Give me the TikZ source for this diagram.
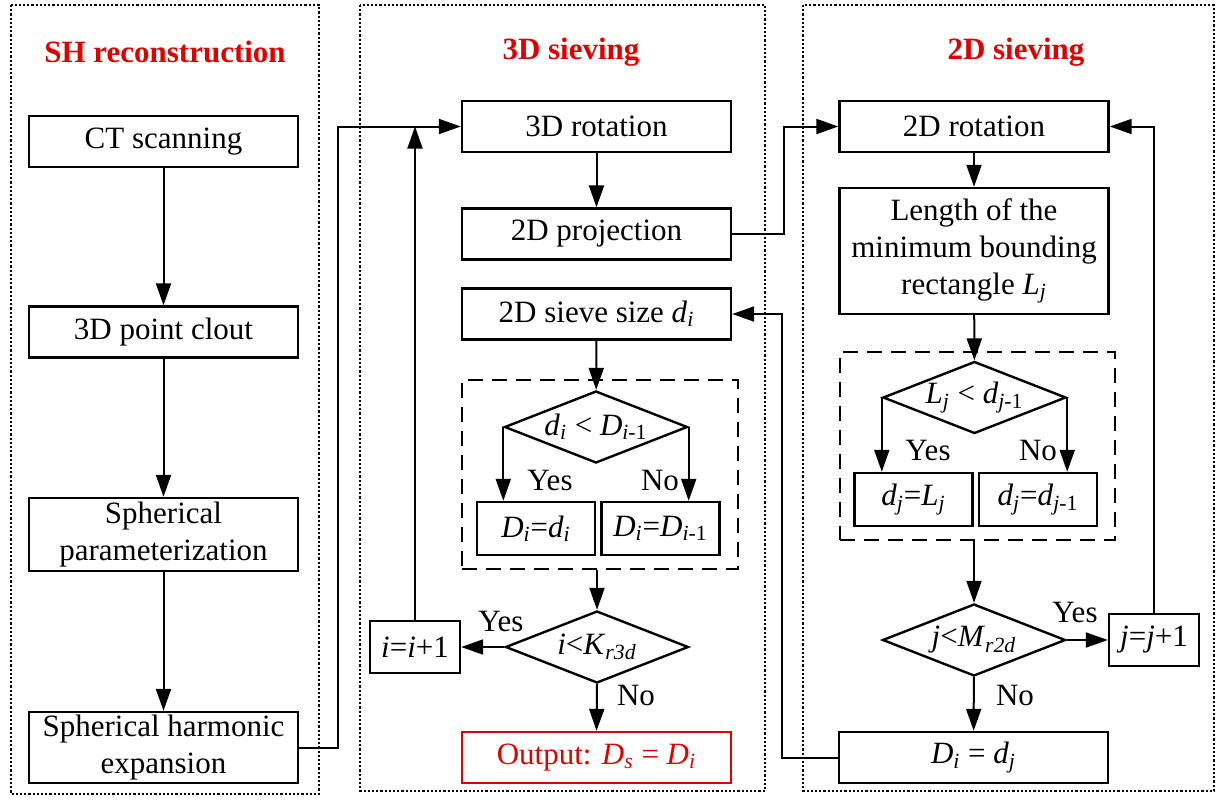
\documentclass[tikz,border=0pt]{standalone}
\usepackage{fontspec}
\setmainfont{Liberation Serif}
\usetikzlibrary{arrows.meta,shapes.geometric,fit}
\definecolor{shred}{RGB}{225,0,0}
\newcommand{\varsub}[2]{\textit{#1}\textsubscript{#2}}

\begin{document}
\begin{tikzpicture}[x=0.5pt,y=-0.5pt,
    font=\fontsize{15.5}{18.5}\selectfont,
    box/.style={draw,line width=1.2pt,inner sep=0pt,align=center,minimum width=134.5pt,minimum height=25.5pt},
    smallbox/.style={box,minimum width=59pt,minimum height=26.5pt},
    cond/.style={draw,line width=1.2pt,shape=diamond,aspect=2.5,inner sep=0pt,minimum width=91.5pt,minimum height=36pt},
    dashgroup/.style={draw,line width=1.1pt,dash pattern=on 7.5pt off 4.5pt,inner sep=0pt},
    panel/.style={line width=1.2pt,dash pattern=on 1.1pt off 1pt},
    paneltitle/.style={text=shred,font=\fontsize{15.5}{18}\selectfont\bfseries},
    arr/.style={-{Triangle[length=11pt,width=7.5pt]},line width=1pt},
    lbl/.style={inner sep=0pt}]
    \useasboundingbox (0,0) rectangle (1219,799);
    \draw[panel] (11,5) rectangle (319,794);
    \draw[panel] (360,5) rectangle (765,791);
    \draw[panel] (803,5) rectangle (1214,791);
    \node[paneltitle] (t1) at (165,52) {SH reconstruction};
    \node[paneltitle] (t2) at (571,52) {3D sieving};
    \node[paneltitle] (t3) at (1016,52) {2D sieving};

    \node[box] (ct) at (163.5,141.5) {CT scanning};
    \node[box] (pc) at (163.5,332) {3D point clout};
    \node[box,minimum height=36.5pt] (sp) at (163.5,534.5) {Spherical\\parameterization};
    \node[box,minimum height=35.5pt] (she) at (163.5,747.5) {Spherical harmonic\\expansion};

    \node[box] (rot3) at (596.5,126.5) {3D rotation};
    \node[box] (proj) at (596.5,234) {2D projection};
    \node[box] (sieve) at (596.5,314) {2D sieve size \varsub{d}{\textit{i}}};
    \node[dashgroup,fit={(462,380) (738,569)}] (grp3d) {};
    \node[cond] (dia1) at (596,427) {\varsub{d}{\textit{i}} < \varsub{D}{\textit{i}-1}};
    \node[smallbox] (dyes) at (536,528.5) {\varsub{D}{\textit{i}}=\varsub{d}{\textit{i}}};
    \node[smallbox] (dno) at (660.5,528.5) {\varsub{D}{\textit{i}}=\varsub{D}{\textit{i}-1}};
    \node[cond] (dia2) at (597,647) {\textit{i}<\varsub{K}{\textit{r3d}}};
    \node[box,minimum width=45pt,minimum height=26pt] (iinc) at (415,647) {\textit{i}=\textit{i}+1};
    \node[box,draw=shred,text=shred] (out) at (596.5,757.5) {Output: \varsub{D}{\textit{s}} = \varsub{D}{\textit{i}}};

    \node[box] (rot2) at (974,126.5) {2D rotation};
    \node[box,minimum height=63pt] (len) at (974,251) {Length of the\\minimum bounding\\rectangle \varsub{L}{\textit{j}}};
    \node[dashgroup,fit={(840,352) (1115,540)}] (grp2d) {};
    \node[cond] (dia3) at (974.5,397.5) {\varsub{L}{\textit{j}} < \varsub{d}{\textit{j}-1}};
    \node[smallbox] (lyes) at (913.5,499.5) {\varsub{d}{\textit{j}}=\varsub{L}{\textit{j}}};
    \node[smallbox] (lno) at (1038,499.5) {\varsub{d}{\textit{j}}=\varsub{d}{\textit{j}-1}};
    \node[cond] (dia4) at (974,640) {\textit{j}<\varsub{M}{\textit{r2d}}};
    \node[box,minimum width=45pt,minimum height=26pt] (jinc) at (1154,640) {\textit{j}=\textit{j}+1};
    \node[box] (dii) at (973.5,757.5) {\varsub{D}{\textit{i}} = \varsub{d}{\textit{j}}};

    \node[lbl] (y1) at (550,480) {Yes};
    \node[lbl] (n1) at (660,480) {No};
    \node[lbl] (y2) at (501,621) {Yes};
    \node[lbl] (n2) at (636,695) {No};
    \node[lbl] (y3) at (928,450) {Yes};
    \node[lbl] (n3) at (1038,450) {No};
    \node[lbl] (y4) at (1075,612) {Yes};
    \node[lbl] (n4) at (1015,695) {No};

    \draw[arr] (ct) -- (pc);
    \draw[arr] (pc) -- (sp);
    \draw[arr] (sp) -- (she);
    \draw[arr] (she.east) -- ++(39,0) |- (rot3.west);
    \draw[arr] (rot3) -- (proj);
    \draw[arr] (proj.east) -- ++(52,0) |- (rot2.west);
    \draw[arr] (sieve) -- (dia1);
    \draw[arr] (dia1.west) -- (dia1.west |- dyes.north);
    \draw[arr] (dia1.east) -- (dia1.east |- dno.north);
    \draw[arr] (dia2.north |- grp3d.south) -- (dia2.north);
    \draw[arr] (dia2.west) -- (iinc.east);
    \draw[arr] (iinc.north) -- (iinc.north |- rot3.west);
    \draw[arr] (dia2.south) -- (out.north);
    \draw[arr] (rot2) -- (len);
    \draw[arr] (len) -- (dia3);
    \draw[arr] (dia3.west) -- (dia3.west |- lyes.north);
    \draw[arr] (dia3.east) -- (dia3.east |- lno.north);
    \draw[arr] (dia4.north |- grp2d.south) -- (dia4.north);
    \draw[arr] (dia4.east) -- (jinc.west);
    \draw[arr] (jinc.north) |- (rot2.east);
    \draw[arr] (dia4) -- (dii);
    \draw[arr] (dii.west) -- ++(-56,0) |- (sieve.east);
\end{tikzpicture}
\end{document}
